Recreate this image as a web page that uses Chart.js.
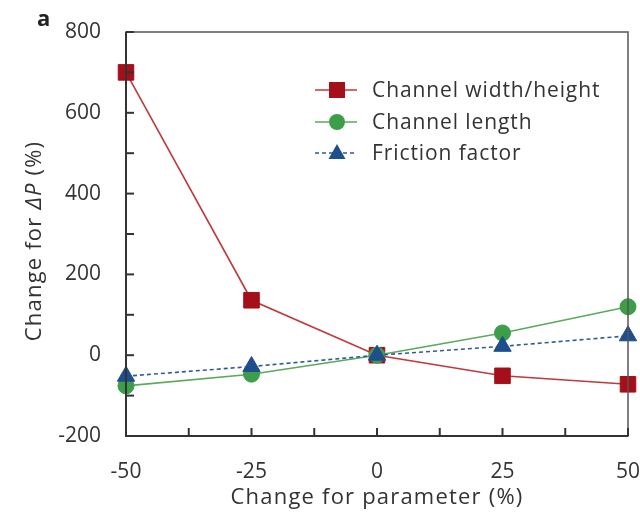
<!DOCTYPE html>
<html>
<head>
<meta charset="utf-8">
<script src="https://cdn.jsdelivr.net/npm/chart.js@4"></script>
<style>
  html, body { margin: 0; padding: 0; background: #fff; }
  #wrap { width: 640px; height: 516px; position: relative; }
</style>
</head>
<body>
<div id="wrap"><canvas id="chart" width="640" height="516"></canvas></div>
<script>
// Dados
const paramChange = [-50, -25, 0, 25, 50];
const widthHeight = [700, 136, 0, -51, -72];
const channelLength = [-76, -47, 0, 55, 120];
const frictionFactor = [-52, -28, 0, 22, 48];
const yTicks = [-200, 0, 200, 400, 600, 800];
const xTicks = [-50, -25, 0, 25, 50];

const FONT = '"Open Sans", "DejaVu Sans", sans-serif';

const series = [
    { label: 'Channel width/height', data: widthHeight, line: '#c0393d', fill: '#a50f1a', style: 'rect', dash: [] },
    { label: 'Channel length', data: channelLength, line: '#5aaa5c', fill: '#3d9e49', style: 'circle', dash: [] },
    { label: 'Friction factor', data: frictionFactor, line: '#2f5a9a', fill: '#1f4e8c', style: 'triangle', dash: [4, 3] }
];

// Moldura, ticks internos, títulos e legenda
const extras = {
    id: 'extras',
    afterDraw(chart) {
        const ctx = chart.ctx;
        const a = chart.chartArea;
        const xs = chart.scales.x, ys = chart.scales.y;
        ctx.save();

        // caixa
        ctx.strokeStyle = '#555';
        ctx.lineWidth = 1.5;
        ctx.strokeRect(a.left, a.top, a.right - a.left, a.bottom - a.top);
        ctx.strokeStyle = '#333';
        ctx.lineWidth = 2;
        ctx.beginPath();
        ctx.moveTo(a.left, a.top);
        ctx.lineTo(a.left, a.bottom);
        ctx.lineTo(a.right, a.bottom);
        ctx.stroke();

        // ticks apontando para dentro
        for (let v = -200; v <= 800; v += 100) {
            const y = ys.getPixelForValue(v);
            ctx.beginPath(); ctx.moveTo(a.left, y); ctx.lineTo(a.left + 8, y); ctx.stroke();
        }
        for (let v = -50; v <= 50; v += 12.5) {
            const x = xs.getPixelForValue(v);
            ctx.beginPath(); ctx.moveTo(x, a.bottom); ctx.lineTo(x, a.bottom - 8); ctx.stroke();
        }

        // título eixo x
        ctx.fillStyle = '#333';
        ctx.font = '22px ' + FONT;
        ctx.letterSpacing = '1.2px';
        ctx.textAlign = 'center';
        ctx.textBaseline = 'middle';
        ctx.fillText('Change for parameter (%)', (a.left + a.right) / 2, 498);

        // título eixo y com ΔP em itálico
        const parts = [
            { t: 'Change for ', f: '22px ' + FONT },
            { t: '\u0394P', f: 'italic 22px ' + FONT },
            { t: ' (%)', f: '22px ' + FONT }
        ];
        let total = 0;
        parts.forEach(p => { ctx.font = p.f; p.w = ctx.measureText(p.t).width; total += p.w; });
        ctx.translate(35, 241);
        ctx.rotate(-Math.PI / 2);
        ctx.textAlign = 'left';
        let cx = -total / 2;
        parts.forEach(p => { ctx.font = p.f; ctx.fillText(p.t, cx, 0); cx += p.w; });
        ctx.setTransform(1, 0, 0, 1, 0, 0);
        ctx.letterSpacing = '0px';

        // letra do painel
        ctx.font = 'bold 22px ' + FONT;
        ctx.textAlign = 'left';
        ctx.fillStyle = '#222';
        ctx.fillText('a', 37, 20);

        // legenda
        const lx = 315, rows = [90, 122, 153];
        series.forEach((s, i) => {
            const y = rows[i];
            ctx.strokeStyle = s.line;
            ctx.lineWidth = 1.6;
            ctx.setLineDash(s.dash);
            ctx.beginPath(); ctx.moveTo(lx, y); ctx.lineTo(lx + 42, y); ctx.stroke();
            ctx.setLineDash([]);
            ctx.fillStyle = s.fill;
            ctx.beginPath();
            if (s.style === 'rect') ctx.rect(lx + 14, y - 8, 16, 16);
            else if (s.style === 'circle') ctx.arc(lx + 22, y, 8, 0, Math.PI * 2);
            else { ctx.moveTo(lx + 22, y - 9); ctx.lineTo(lx + 30.5, y + 6); ctx.lineTo(lx + 13.5, y + 6); ctx.closePath(); }
            ctx.fill();
            ctx.fillStyle = '#333';
            ctx.font = '21px ' + FONT;
            ctx.letterSpacing = '0.9px';
            ctx.textAlign = 'left';
            ctx.textBaseline = 'middle';
            ctx.fillText(s.label, lx + 57, y + 1);
            ctx.letterSpacing = '0px';
        });
        ctx.restore();
    }
};

new Chart(document.getElementById('chart').getContext('2d'), {
    type: 'line',
    data: {
        datasets: series.map((s, i) => ({
            label: s.label,
            data: paramChange.map((x, j) => ({ x: x, y: s.data[j] })),
            borderColor: s.line,
            borderWidth: 1.6,
            borderDash: s.dash,
            backgroundColor: s.fill,
            pointBackgroundColor: s.fill,
            pointBorderColor: s.fill,
            pointBorderWidth: 1,
            pointStyle: s.style,
            pointRadius: s.style === 'triangle' ? 10 : (s.style === 'rect' ? 11 : 8),
            tension: 0,
            order: [2, 1, 0][i],
            clip: false
        }))
    },
    options: {
        responsive: false,
        animation: false,
        layout: { padding: { left: 0, right: 12, top: 32, bottom: 0 } },
        plugins: { legend: { display: false }, tooltip: { enabled: false } },
        scales: {
            x: {
                type: 'linear',
                min: -50, max: 50,
                afterBuildTicks: s => { s.ticks = xTicks.map(v => ({ value: v })); },
                afterFit: s => { s.height = 80; s.paddingLeft = 0; s.paddingRight = 0; },
                grid: { display: false, drawTicks: false },
                border: { display: false },
                ticks: { color: '#333', font: { family: FONT, size: 21 }, padding: 23, maxRotation: 0 }
            },
            y: {
                min: -200, max: 800,
                afterBuildTicks: s => { s.ticks = yTicks.map(v => ({ value: v })); },
                afterFit: s => { s.width = 126; s.paddingTop = 0; s.paddingBottom = 0; },
                grid: { display: false, drawTicks: false },
                border: { display: false },
                ticks: { color: '#333', font: { family: FONT, size: 21 }, padding: 25 }
            }
        }
    },
    plugins: [extras]
});
</script>
</body>
</html>
